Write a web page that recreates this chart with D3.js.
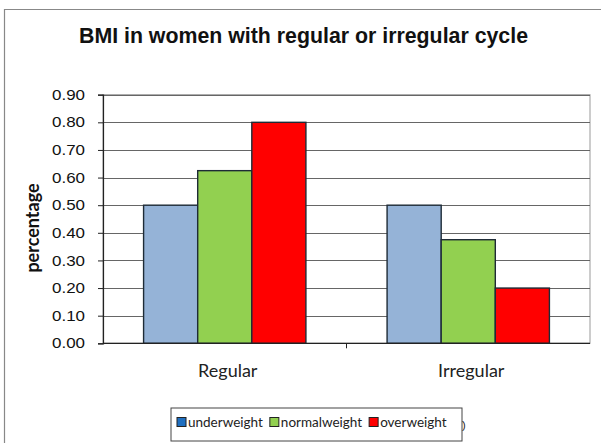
<!DOCTYPE html>
<html>
<head>
<meta charset="utf-8">
<script src="https://cdn.jsdelivr.net/npm/d3@7"></script>
<style>
  body { margin: 0; background: #fff; }
  svg { display: block; }
  .axis path, .axis line { stroke: #222; }
  .grid line { stroke: #666; }
</style>
</head>
<body>
<div id="chart"></div>
<script>
const categories = ["Regular", "Irregular"];
const series = ["underweight", "normalweight", "overweight"];
const underweight = [0.50, 0.50];
const normalweight = [0.625, 0.375];
const overweight = [0.80, 0.20];
const yTicks = [0, 0.1, 0.2, 0.3, 0.4, 0.5, 0.6, 0.7, 0.8, 0.9];

const values = { underweight, normalweight, overweight };
const rows = categories.map(function (c, i) {
  return { category: c, values: series.map(function (s) { return { key: s, value: values[s][i] }; }) };
});

let w = 601;
let h = 443;
let marginTop = 94.7;
let marginRight = 11;
let marginBottom = 99.7;
let marginLeft = 103;

const color = d3.scaleOrdinal().domain(series).range(["#95b3d7", "#92d050", "#ff0000"]);
const swatch = d3.scaleOrdinal().domain(series).range(["#1f6fc0", "#92d050", "#ff0000"]);

let x0 = d3.scaleBand().domain(categories).range([marginLeft, w - marginRight]);
let bw = x0.bandwidth();
let x1 = d3.scaleBand().domain(series).range([bw / 6, bw * 5 / 6]);
let y = d3.scaleLinear().domain([0, 0.9]).range([h - marginBottom, marginTop]);

let svg = d3.select("#chart").append("svg").attr("width", w).attr("height", h);

// outer chart frame (only top and left edges visible)
svg.append("path")
  .attr("d", "M4.5," + h + "V9.5H" + w)
  .attr("fill", "none")
  .attr("stroke", "#888")
  .attr("stroke-width", 1.2);

svg.append("text")
  .attr("x", 303.5)
  .attr("y", 43)
  .attr("text-anchor", "middle")
  .attr("font-family", "Liberation Sans, Arial, sans-serif")
  .attr("font-weight", "bold")
  .attr("font-size", 21.5)
  .attr("fill", "#111")
  .attr("textLength", 449)
  .attr("lengthAdjust", "spacingAndGlyphs")
  .text("BMI in women with regular or irregular cycle");

// plot frame
svg.append("rect")
  .attr("x", marginLeft)
  .attr("y", y(0.9))
  .attr("width", w - marginRight - marginLeft)
  .attr("height", y(0) - y(0.9))
  .attr("fill", "none")
  .attr("stroke", "#999");

svg.append("g")
  .attr("class", "grid")
  .selectAll("line")
  .data(yTicks.slice(1))
  .enter()
  .append("line")
  .attr("x1", marginLeft)
  .attr("x2", w - marginRight)
  .attr("y1", function (d) { return Math.round(y(d)) + 0.5; })
  .attr("y2", function (d) { return Math.round(y(d)) + 0.5; });

let yAxis = d3.axisLeft(y).tickValues(yTicks).tickFormat(d3.format(".2f")).tickSize(5).tickPadding(13);
let gy = svg.append("g")
  .attr("class", "axis")
  .attr("transform", `translate(${marginLeft},0)`)
  .call(yAxis);
gy.select(".domain").attr("stroke-width", 1.2);
gy.selectAll("text")
  .attr("font-family", "Liberation Sans, Arial, sans-serif")
  .attr("font-size", 14.5)
  .attr("fill", "#111")
  .attr("textLength", 33)
  .attr("lengthAdjust", "spacingAndGlyphs");

svg.append("text")
  .attr("transform", "translate(39,228) rotate(-90)")
  .attr("text-anchor", "middle")
  .attr("font-family", "Lato, sans-serif")
  .attr("font-weight", "bold")
  .attr("font-size", 18)
  .attr("fill", "#111")
  .text("percentage");

let group = svg.append("g")
  .selectAll("g")
  .data(rows)
  .enter()
  .append("g")
  .attr("transform", function (d) { return `translate(${x0(d.category)},0)`; });

group.selectAll("rect")
  .data(function (d) { return d.values; })
  .enter()
  .append("rect")
  .attr("x", function (d) { return x1(d.key); })
  .attr("y", function (d) { return y(d.value); })
  .attr("width", x1.bandwidth())
  .attr("height", function (d) { return y(0) - y(d.value); })
  .attr("fill", function (d) { return color(d.key); })
  .attr("stroke", "#1e2b36")
  .attr("stroke-width", 1.4);

// category axis with ticks between groups
let xAxisG = svg.append("g").attr("class", "axis");
xAxisG.append("line")
  .attr("x1", marginLeft).attr("x2", w - marginRight)
  .attr("y1", y(0)).attr("y2", y(0))
  .attr("stroke-width", 1.2);
xAxisG.selectAll(".tk")
  .data(categories.slice(1))
  .enter()
  .append("line")
  .attr("class", "tk")
  .attr("x1", function (d) { return x0(d); })
  .attr("x2", function (d) { return x0(d); })
  .attr("y1", y(0))
  .attr("y2", y(0) + 5)
  .attr("stroke", "#666");
xAxisG.selectAll("text")
  .data(categories)
  .enter()
  .append("text")
  .attr("x", function (d) { return x0(d) + bw / 2 + 3; })
  .attr("y", 377)
  .attr("text-anchor", "middle")
  .attr("font-family", "Lato, sans-serif")
  .attr("font-size", 18)
  .attr("fill", "#222")
  .text(function (d) { return d; });

// legend
let legend = svg.append("g");
legend.append("rect")
  .attr("x", 171)
  .attr("y", 408)
  .attr("width", 291)
  .attr("height", 33)
  .attr("fill", "#fff")
  .attr("stroke", "#444");
let lx = 177;
series.forEach(function (s) {
  legend.append("rect")
    .attr("x", lx)
    .attr("y", 417.5)
    .attr("width", 9)
    .attr("height", 9)
    .attr("fill", swatch(s))
    .attr("stroke", "#222");
  let t = legend.append("text")
    .attr("x", lx + 11)
    .attr("y", 427)
    .attr("font-family", "Lato, sans-serif")
    .attr("font-size", 13.5)
    .attr("fill", "#222")
    .text(s);
  lx += 11 + t.node().getComputedTextLength() + 7;
});
legend.append("text")
  .attr("x", 462)
  .attr("y", 429)
  .attr("font-family", "Liberation Sans, sans-serif")
  .attr("font-size", 11)
  .attr("fill", "#222")
  .text(")");
</script>
</body>
</html>
